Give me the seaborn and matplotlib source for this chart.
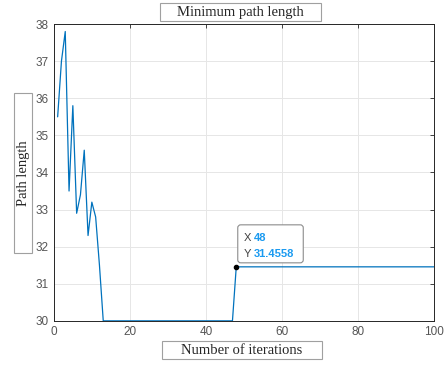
import numpy as np
import pandas as pd
import seaborn as sns
import matplotlib.pyplot as plt
from matplotlib.patches import Rectangle, FancyBboxPatch
from matplotlib.transforms import ScaledTranslation

# path length per iteration
iterations = list(range(1, 101))
early_vals = [35.5, 37.0, 37.8, 33.5, 35.8, 32.9, 33.4, 34.6, 32.3, 33.2, 32.8, 31.5]
flat_vals = [30.0] * (47 - 12)
late_vals = [31.4558] * (100 - 47)
path_len = early_vals + flat_vals + late_vals

tip_x = 48
tip_y = 31.4558

df = pd.DataFrame({"iter": iterations, "len": path_len})

sns.set_style("white")
plt.rcParams['font.family'] = ['Liberation Sans', 'DejaVu Sans']

fig = plt.figure(figsize=(4.45, 3.65), dpi=100)
ax = fig.add_axes([0.121, 0.121, 0.854, 0.813])

sns.lineplot(data=df, x="iter", y="len", color="#0072BD", lw=0.9, ax=ax)

ax.set_xlim(0, 100)
ax.set_ylim(30, 38)
ax.set_xticks(np.arange(0, 101, 20))
ax.set_yticks(np.arange(30, 39, 1))
ax.grid(True, color="#e6e6e6", lw=0.7)
ax.tick_params(direction="in", length=3, width=0.6, colors="#262626",
               labelsize=8.5, labelcolor="#555555", top=True, right=True)
for s in ax.spines.values():
    s.set_color("#262626")
    s.set_linewidth(0.7)
ax.set_xlabel("")
ax.set_ylabel("")

# label boxes (figure pixel frames)
W, H = 445.0, 365.0
def label_box(x0, y0, x1, y1):
    fig.patches.append(Rectangle((x0 / W, 1 - y1 / H), (x1 - x0) / W, (y1 - y0) / H,
                                 transform=fig.transFigure, fc="white", ec="#a0a0a0", lw=0.8))

serif = ["Liberation Serif", "DejaVu Serif"]
label_box(160, 3, 321, 21)
fig.text(240.5 / W, 1 - 12.5 / H, "Minimum path length", ha="center", va="center",
         fontsize=10.5, family=serif)
label_box(162, 341, 322, 359)
fig.text(242 / W, 1 - 350.5 / H, "Number of iterations", ha="center", va="center",
         fontsize=10.5, family=serif)
label_box(14, 93, 32, 253)
fig.text(23.5 / W, 1 - 173 / H, "Path length", ha="center", va="center", rotation=90,
         fontsize=10.5, family=serif)

# data tip
ax.plot([tip_x], [tip_y], "o", color="black", ms=3, zorder=5)
tip_tr = fig.dpi_scale_trans + ScaledTranslation(tip_x, tip_y, ax.transData)
ax.add_patch(FancyBboxPatch((0.015, 0.04), 0.655, 0.38, boxstyle="round,pad=0,rounding_size=0.03",
                            transform=tip_tr, fc="white", ec="#8c8c8c", lw=0.8, zorder=4,
                            clip_on=False))
for lab, val, dy in [("X", f"{tip_x}", 0.285), ("Y", f"{tip_y:.4f}", 0.13)]:
    ax.text(0.07, dy, lab, transform=tip_tr, ha="left", va="center", fontsize=8,
            color="#404040", zorder=6)
    ax.text(0.18, dy, val, transform=tip_tr, ha="left", va="center", fontsize=8,
            color="#1a9af0", fontweight="bold", zorder=6)

fig.savefig("out.png", dpi=100)
